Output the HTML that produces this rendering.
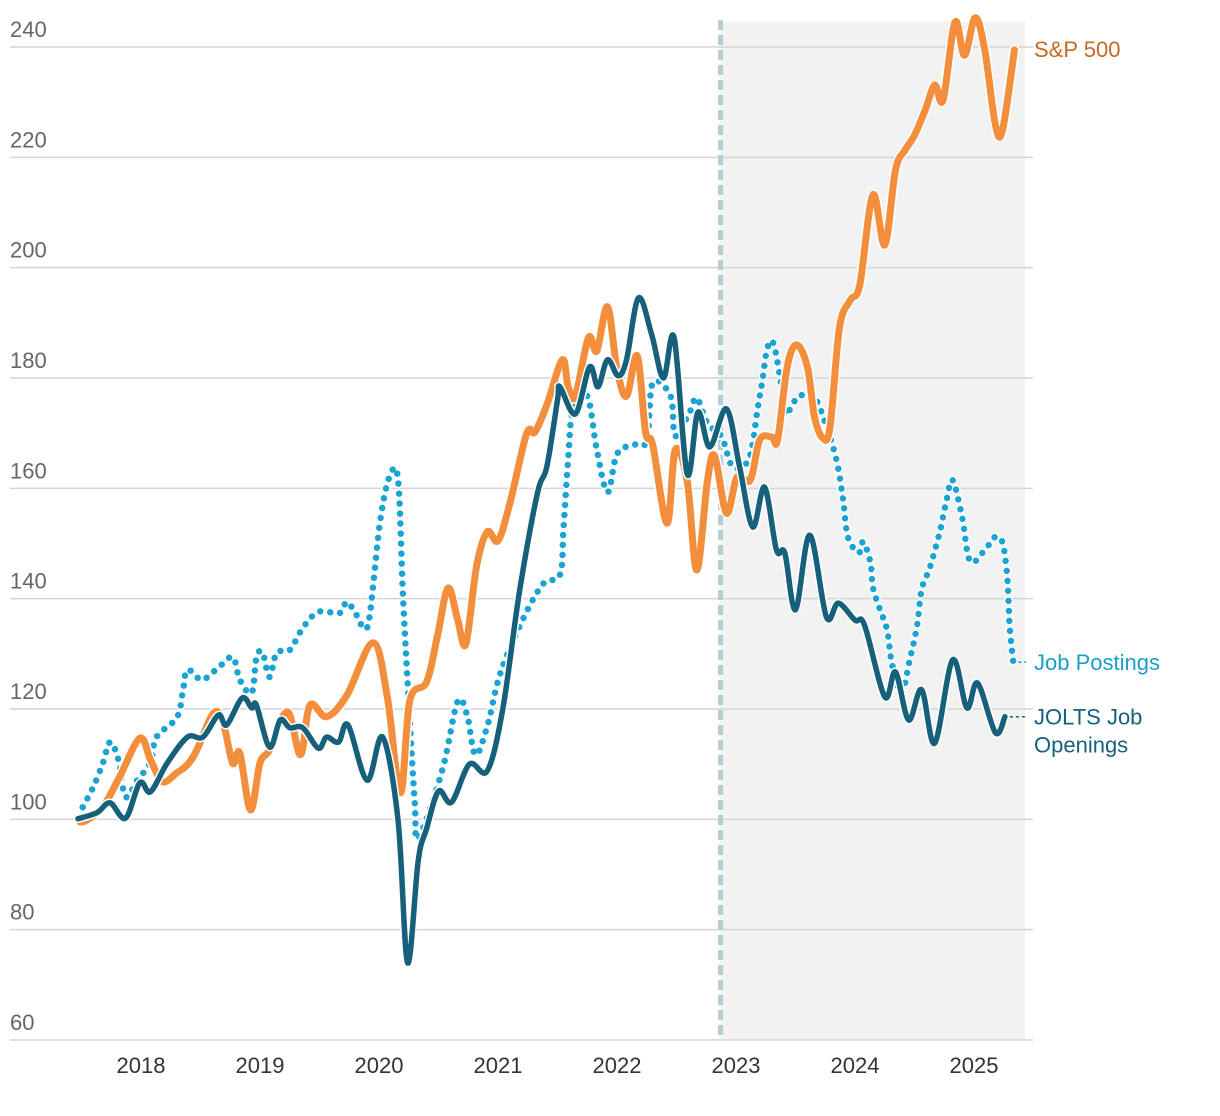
<!DOCTYPE html>
<html><head><meta charset="utf-8">
<style>
html,body{margin:0;padding:0;background:#fff;}
svg{display:block;font-family:"Liberation Sans",Arial,sans-serif;}
</style></head>
<body>
<svg id="chart" width="1220" height="1116" viewBox="0 0 1220 1116" xmlns="http://www.w3.org/2000/svg">
<g id="bg"></g><g id="grid"></g><g id="series"></g><g id="labels"></g>
</svg>
<script>
const yTicks = [60,80,100,120,140,160,180,200,220,240];
const yearTicks = [2018,2019,2020,2021,2022,2023,2024,2025];
const shadeStart = 2022.87, shadeEnd = 2025.43;

const spDates = [2017.49,2017.55,2017.68,2017.82,2017.99,2018.08,2018.18,2018.30,2018.39,2018.47,2018.61,2018.69,2018.77,2018.83,2018.92,2019.00,2019.08,2019.23,2019.34,2019.42,2019.56,2019.73,2019.95,2020.07,2020.18,2020.26,2020.40,2020.49,2020.58,2020.66,2020.73,2020.82,2020.91,2021.00,2021.10,2021.24,2021.31,2021.41,2021.54,2021.59,2021.65,2021.76,2021.83,2021.92,2022.00,2022.08,2022.17,2022.24,2022.30,2022.42,2022.49,2022.59,2022.67,2022.76,2022.82,2022.92,2023.01,2023.12,2023.20,2023.30,2023.35,2023.43,2023.51,2023.60,2023.66,2023.73,2023.79,2023.87,2023.96,2024.04,2024.15,2024.25,2024.34,2024.42,2024.50,2024.59,2024.67,2024.74,2024.84,2024.92,2025.01,2025.09,2025.18,2025.24,2025.34];
const spValues = [99.5,99.9,102.2,107.7,114.7,110.8,106.8,108.4,109.9,112.6,119.3,117.5,110.2,112.0,101.7,110.2,112.6,119.5,111.7,120.7,118.6,122.5,132.0,122.2,104.8,121.6,124.9,133.1,141.9,136.3,131.8,145.9,152.1,150.5,157.3,169.9,170.2,175.1,183.3,178.4,176.7,187.3,184.9,192.9,181.6,176.7,184.0,170.2,167.9,153.7,167.0,161.3,145.2,161.3,165.9,155.5,162.1,161.5,168.8,169.3,168.8,182.0,186.0,182.0,172.9,169.1,171.1,189.2,194.1,196.9,213.2,204.1,217.7,221.3,224.0,228.6,233.1,230.4,244.5,238.5,245.3,239.5,225.9,225.0,239.5];

const joltsDates = [2017.47,2017.63,2017.74,2017.87,2017.99,2018.08,2018.22,2018.39,2018.52,2018.65,2018.72,2018.85,2018.93,2018.97,2019.08,2019.17,2019.25,2019.36,2019.49,2019.56,2019.66,2019.74,2019.90,2020.03,2020.16,2020.24,2020.33,2020.40,2020.50,2020.61,2020.76,2020.91,2021.04,2021.18,2021.33,2021.41,2021.50,2021.52,2021.65,2021.77,2021.84,2021.92,2022.01,2022.08,2022.18,2022.29,2022.39,2022.48,2022.59,2022.68,2022.78,2022.92,2023.03,2023.14,2023.24,2023.34,2023.41,2023.50,2023.62,2023.76,2023.86,2024.00,2024.08,2024.25,2024.34,2024.45,2024.56,2024.67,2024.82,2024.94,2025.03,2025.18,2025.26];
const joltsValues = [100.1,101.2,103.0,100.2,106.6,105.0,110.2,114.9,114.9,118.9,117.1,122.0,120.2,120.7,113.1,118.0,116.6,116.6,112.9,114.9,114.0,117.1,107.1,114.9,99.9,74.0,92.6,98.3,105.1,103.1,110.0,108.8,120.0,141.2,159.0,163.9,176.0,178.4,173.5,182.0,178.4,183.3,180.4,183.3,194.5,188.0,180.0,187.3,162.6,173.8,167.5,174.4,163.9,153.0,160.2,148.8,148.3,138.0,151.5,136.7,139.2,136.1,135.2,122.2,126.7,118.0,123.5,113.8,128.9,120.2,124.7,115.7,118.6];

const postDates = [2017.51,2017.60,2017.68,2017.74,2017.81,2017.87,2017.97,2018.08,2018.13,2018.30,2018.35,2018.39,2018.51,2018.64,2018.77,2018.83,2018.93,2018.97,2019.02,2019.08,2019.14,2019.25,2019.36,2019.49,2019.67,2019.73,2019.82,2019.87,2019.92,2020.01,2020.09,2020.16,2020.20,2020.24,2020.30,2020.33,2020.53,2020.66,2020.74,2020.81,2020.91,2021.02,2021.21,2021.38,2021.52,2021.55,2021.59,2021.63,2021.75,2021.83,2021.92,2022.00,2022.13,2022.25,2022.30,2022.45,2022.49,2022.61,2022.67,2022.76,2022.88,2022.97,2023.09,2023.14,2023.18,2023.22,2023.26,2023.31,2023.37,2023.41,2023.45,2023.51,2023.56,2023.66,2023.77,2023.85,2023.90,2023.94,2024.03,2024.07,2024.13,2024.15,2024.21,2024.27,2024.31,2024.39,2024.46,2024.52,2024.56,2024.63,2024.71,2024.77,2024.82,2024.90,2024.97,2025.11,2025.18,2025.24,2025.28,2025.30,2025.33];
const postValues = [102.2,105.9,110.2,114.0,110.8,104.1,107.1,110.4,114.9,118.4,122.9,127.1,125.3,127.3,129.4,125.3,122.9,129.3,130.3,125.8,130.2,130.7,134.7,137.6,137.4,139.4,136.7,134.7,136.7,154.1,162.2,161.7,141.2,124.9,103.1,96.6,108.8,121.3,118.9,111.7,116.9,126.5,136.3,142.7,144.3,152.5,165.3,174.4,176.7,167.0,159.3,166.2,167.9,168.6,179.1,176.7,169.5,173.8,176.4,171.8,169.3,163.9,164.6,168.2,174.2,179.3,185.1,186.5,180.2,173.7,174.2,176.4,176.9,176.6,170.6,164.6,157.9,151.2,148.3,150.3,146.5,142.1,138.0,134.3,128.3,122.9,128.9,134.9,141.6,145.7,151.9,157.9,161.5,154.8,146.7,149.4,151.2,150.1,143.9,134.9,128.5];

const NS="http://www.w3.org/2000/svg";
const xS = d => 141 + (d-2018)*119;
const yS = v => 1040 - (v-60)*(993/180);
function mk(tag, attrs, parent){const e=document.createElementNS(NS,tag);for(const k in attrs)e.setAttribute(k,attrs[k]);parent.appendChild(e);return e;}
const bg=document.getElementById('bg'), grid=document.getElementById('grid'), ser=document.getElementById('series'), lab=document.getElementById('labels');

const shade = mk('rect',{x:xS(shadeStart),y:22,width:xS(shadeEnd)-xS(shadeStart),height:1018,fill:'#f2f2f2'},bg);



yTicks.forEach(t=>{
  const l=mk('line',{x1:10,x2:1033,y1:yS(t),y2:yS(t),stroke:'#d4d4d4','stroke-width':1.5},grid);
  
  
  const tx=mk('text',{x:10,y:yS(t)-10,'font-size':22,fill:'#666'},lab);
  tx.textContent=t;
  
  
});
yearTicks.forEach(yr=>{
  const tx=mk('text',{x:xS(yr),y:1073,'font-size':22,fill:'#333','text-anchor':'middle'},lab);
  tx.textContent=yr;
  
  
});
const vl=mk('line',{x1:xS(shadeStart),x2:xS(shadeStart),y1:20,y2:1040,stroke:'#b6cdd5','stroke-width':5,'stroke-dasharray':'10 5'},grid);



function pathD(ds,vs){
  const p=ds.map((d,i)=>[xS(d),yS(vs[i])]);
  let s=`M${p[0][0]},${p[0][1]}`;
  for(let i=0;i<p.length-1;i++){
    const p0=p[Math.max(0,i-1)],p1=p[i],p2=p[i+1],p3=p[Math.min(p.length-1,i+2)];
    const c1=[p1[0]+(p2[0]-p0[0])/6,p1[1]+(p2[1]-p0[1])/6];
    const c2=[p2[0]-(p3[0]-p1[0])/6,p2[1]-(p3[1]-p1[1])/6];
    s+=` C${c1[0].toFixed(1)},${c1[1].toFixed(1)} ${c2[0].toFixed(1)},${c2[1].toFixed(1)} ${p2[0].toFixed(1)},${p2[1].toFixed(1)}`;
  }
  return s;
}
function series(ds,vs,color,w,dash,name){
  const d=pathD(ds,vs);
  const g=mk('g',{},ser);
  
  
  mk('path',{d:d,fill:'none',stroke:'#fff','stroke-width':w+3,'stroke-linecap':'round','stroke-linejoin':'round','stroke-dasharray':dash||'none'},g);
  mk('path',{d:d,fill:'none',stroke:color,'stroke-width':w,'stroke-linecap':'round','stroke-linejoin':'round','stroke-dasharray':dash||'none'},g);
  return g;
}
series(postDates,postValues,'#1ba3d3',6.5,'0 10','job-postings-line');
series(spDates,spValues,'#f28e3c',7,null,'sp500-line');
series(joltsDates,joltsValues,'#17607c',5.5,null,'jolts-line');

function endLabel(ds,vs,color,lines,name){
  const x=xS(ds[ds.length-1])+5, y=yS(vs[vs.length-1]);
  const c=mk('line',{x1:x,x2:1026,y1:y,y2:y,stroke:color,'stroke-width':1.5,'stroke-dasharray':'3 3'},lab);
  
  
  const t=mk('text',{x:1034,y:y+8,'font-size':22,fill:color},lab);
  
  
  lines.forEach((s,i)=>{const ts=mk('tspan',{x:1034,dy:i?28:0},t);ts.textContent=s;});
}
const sp=mk('text',{x:1034,y:57,'font-size':22,fill:'#c8681e'},lab);
sp.textContent='S&P 500';


endLabel(postDates,postValues,'#1a9ccc',['Job Postings'],'job-postings-label');
endLabel(joltsDates,joltsValues,'#17607c',['JOLTS Job','Openings'],'jolts-label');
</script>
</body></html>
